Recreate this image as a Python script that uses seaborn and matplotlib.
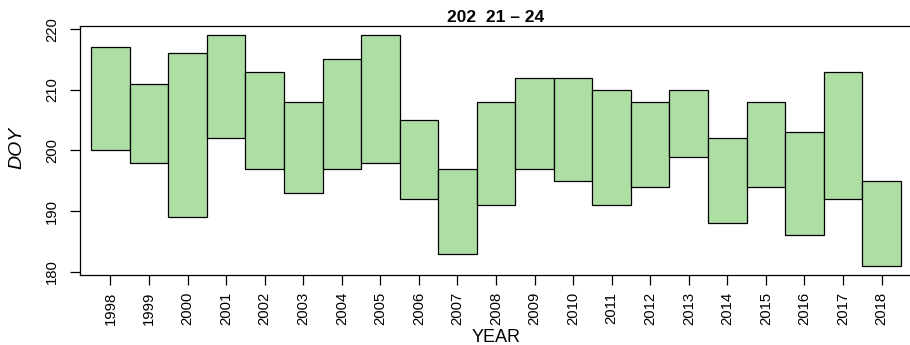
import numpy as np
import pandas as pd
import matplotlib
matplotlib.use("Agg")
import matplotlib.pyplot as plt
import seaborn as sns

# ------------------------------
# Data (day of year, low / high per year)
# ------------------------------
years = list(range(1998, 2019))
doy_high = [217, 211, 216, 219, 213, 208, 215, 219, 205, 197, 208,
            212, 212, 210, 208, 210, 202, 208, 203, 213, 195]
doy_low = [200, 198, 189, 202, 197, 193, 197, 198, 192, 183, 191,
           197, 195, 191, 194, 199, 188, 194, 186, 192, 181]
y_ticks = [180, 190, 200, 210, 220]
title = "202  21 \u2013 24"

df = pd.DataFrame({"YEAR": years, "high": doy_high, "low": doy_low})
df["span"] = df["high"] - df["low"]

# ------------------------------
# Style
# ------------------------------
sns.set_theme(style="ticks")
plt.rcParams["font.family"] = ["Liberation Sans", "DejaVu Sans"]
plt.rcParams["axes.linewidth"] = 0.9
plt.rcParams["axes.edgecolor"] = "black"
plt.rcParams["text.color"] = "black"
plt.rcParams["axes.labelcolor"] = "black"
plt.rcParams["xtick.color"] = "black"
plt.rcParams["ytick.color"] = "black"

fig = plt.figure(figsize=(9.10, 3.45), dpi=100)
ax = fig.add_axes([80 / 910, 70 / 345, 832 / 910, 249 / 345])

sns.barplot(data=df, x="YEAR", y="span", bottom=df["low"].values,
            native_scale=True, width=1.0, color="#addfa5", saturation=1,
            edgecolor="black", linewidth=0.9, ax=ax)

ax.set_xlim(1997.21, 2018.79)
ax.set_ylim(179.48, 220.52)
ax.set_xticks(years)
ax.set_xticklabels([str(y) for y in years], rotation=90, fontsize=10.7)
ax.set_yticks(y_ticks)
ax.set_yticklabels([str(t) for t in y_ticks], rotation=90, va="center",
                   fontsize=10.7)
ax.tick_params(axis="x", length=7, width=0.9, pad=5)
ax.tick_params(axis="y", length=7, width=0.9, pad=8)

for s in ax.spines.values():
    s.set_visible(True)
    s.set_color("black")
ax.spines["right"].set_visible(False)

ax.set_xlabel("")
ax.set_ylabel("")
ax.set_title(title, fontsize=12.5, fontweight="bold", pad=3)
fig.text(17 / 910, 1 - 148 / 345, "DOY", rotation=90, style="italic",
         fontsize=14, ha="center", va="center")
fig.text(496 / 910, 1 - 338 / 345, "YEAR", fontsize=13,
         ha="center", va="center")

plt.savefig("out.png", dpi=100)
